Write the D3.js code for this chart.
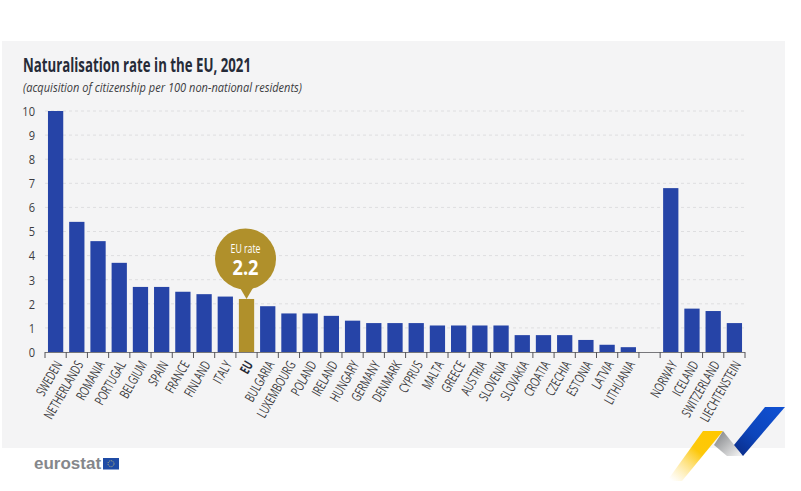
<!DOCTYPE html>
<html>
<head>
<meta charset="utf-8">
<script src="https://cdn.jsdelivr.net/npm/d3@7"></script>
<style>
html, body { margin: 0; padding: 0; background: #fff; }
svg { display: block; }
text { font-family: "Open Sans", sans-serif; }
</style>
</head>
<body>
<div class="canva"></div>
<script>
// blank entry is the gap between the EU members and the EFTA countries
const countries = ['SWEDEN','NETHERLANDS','ROMANIA','PORTUGAL','BELGIUM','SPAIN','FRANCE','FINLAND','ITALY','EU',
  'BULGARIA','LUXEMBOURG','POLAND','IRELAND','HUNGARY','GERMANY','DENMARK','CYPRUS','MALTA','GREECE','AUSTRIA',
  'SLOVENIA','SLOVAKIA','CROATIA','CZECHIA','ESTONIA','LATVIA','LITHUANIA','','NORWAY','ICELAND','SWITZERLAND','LIECHTENSTEIN'];
const rates = [10,5.4,4.6,3.7,2.7,2.7,2.5,2.4,2.3,2.2,
  1.9,1.6,1.6,1.5,1.3,1.2,1.2,1.2,1.1,1.1,1.1,
  1.1,0.7,0.7,0.7,0.5,0.3,0.2,0,6.8,1.8,1.7,1.2];
const yTicks = [0,1,2,3,4,5,6,7,8,9,10];

const svg = d3.select('.canva').append('svg')
  .attr('width', 801)
  .attr('height', 491);

const defs = svg.append('defs');
function grad(id, x1, y1, x2, y2, stops) {
  const g = defs.append('linearGradient').attr('id', id)
    .attr('gradientUnits', 'userSpaceOnUse')
    .attr('x1', x1).attr('y1', y1).attr('x2', x2).attr('y2', y2);
  stops.forEach(s => g.append('stop').attr('offset', s[0]).attr('stop-color', s[1]).attr('stop-opacity', s[2]));
}
grad('yellow', 715, 431, 672, 481, [[0,'#ffc800',1],[0.4,'#fdc80a',1],[1,'#fdd860',0]]);
grad('grey', 718, 436, 738, 456, [[0,'#8f9194',1],[1,'#eeeeee',1]]);
grad('blue', 775, 407, 738, 452, [[0,'#0f4fd0',1],[0.6,'#0d45bb',1],[1,'#0a2f8e',1]]);

//background panel
svg.append('rect')
  .attr('x', 2).attr('y', 41)
  .attr('width', 783).attr('height', 407)
  .attr('fill', '#f4f4f5');

const margin = {top: 111, left: 45};
const graphWidth = 700;
const graphHeight = 241;

const mainCanvas = svg.append('g')
  .attr('transform', `translate(${margin.left},${margin.top})`);

const x = d3.scaleBand()
  .domain(d3.range(countries.length))
  .range([0, graphWidth])
  .paddingInner(0.28)
  .paddingOuter(0.14);

const y = d3.scaleLinear()
  .domain([0, 10])
  .range([graphHeight, 0]);

//gridlines
mainCanvas.selectAll('.grid')
  .data(yTicks.slice(1))
  .enter().append('line')
  .attr('x1', 0)
  .attr('x2', graphWidth)
  .attr('y1', d => y(d))
  .attr('y2', d => y(d))
  .attr('stroke', '#dedee0')
  .attr('stroke-width', 1)
  .attr('stroke-dasharray', '3,3');

//y labels, squeezed because the original face is a condensed one
const yAxis = d3.axisLeft(y).tickValues(yTicks).tickSize(0).tickPadding(10);
const yG = mainCanvas.append('g').call(yAxis);
yG.select('.domain').remove();
yG.selectAll('text')
  .attr('x', 0)
  .attr('transform', 'translate(-10,0) scale(0.82,1)')
  .attr('font-size', 13.5)
  .attr('fill', '#3c3c41')
  .style('font-family', '"Open Sans", sans-serif');

//bars
mainCanvas.selectAll('.bar')
  .data(rates)
  .enter().append('rect')
  .attr('x', (d, i) => x(i))
  .attr('y', d => y(d))
  .attr('width', x.bandwidth())
  .attr('height', d => graphHeight - y(d))
  .attr('fill', (d, i) => countries[i] === 'EU' ? '#b0902b' : '#2644a7');

//x axis, ticks sit between the bars
const step = graphWidth / countries.length;
mainCanvas.append('line')
  .attr('x1', 0).attr('x2', graphWidth)
  .attr('y1', graphHeight + 0.5).attr('y2', graphHeight + 0.5)
  .attr('stroke', '#77777b');
mainCanvas.selectAll('.tick-mark')
  .data(d3.range(countries.length + 1))
  .enter().append('line')
  .attr('x1', d => d * step)
  .attr('x2', d => d * step)
  .attr('y1', graphHeight)
  .attr('y2', graphHeight + 6)
  .attr('stroke', '#55555a');

mainCanvas.selectAll('.xlabel')
  .data(countries)
  .enter().append('text')
  .attr('text-anchor', 'end')
  .attr('dy', '0.35em')
  .attr('font-size', 13.5)
  .attr('font-weight', d => d === 'EU' ? 700 : 400)
  .attr('fill', d => d === 'EU' ? '#262b38' : '#3c3c41')
  .attr('transform', (d, i) => `translate(${x(i) + x.bandwidth() / 2 + 3},${graphHeight + 10}) rotate(-60) scale(0.69,1)`)
  .text(d => d);

//EU rate bubble
const euIndex = countries.indexOf('EU');
const bx = x(euIndex) + x.bandwidth() / 2;
const by = y(rates[euIndex]);
const bubble = mainCanvas.append('g').attr('transform', `translate(${bx},${by})`);
bubble.append('circle')
  .attr('cx', -1).attr('cy', -40)
  .attr('r', 30.5)
  .attr('fill', '#b0902b');
bubble.append('path')
  .attr('d', 'M-7,-12 L0,0 L7,-12 Z')
  .attr('fill', '#b0902b');
bubble.append('text')
  .attr('x', -1).attr('y', -46)
  .attr('text-anchor', 'middle')
  .attr('font-size', 13)
  .attr('textLength', 30)
  .attr('lengthAdjust', 'spacingAndGlyphs')
  .attr('fill', '#fff')
  .text('EU rate');
bubble.append('text')
  .attr('x', -1).attr('y', -23.5)
  .attr('text-anchor', 'middle')
  .attr('font-size', 22)
  .attr('font-weight', 700)
  .attr('textLength', 26)
  .attr('lengthAdjust', 'spacingAndGlyphs')
  .attr('fill', '#fff')
  .text(rates[euIndex].toFixed(1));

//title
svg.append('text')
  .attr('x', 23).attr('y', 71.5)
  .attr('font-size', 20)
  .attr('font-weight', 700)
  .attr('textLength', 228)
  .attr('lengthAdjust', 'spacingAndGlyphs')
  .attr('fill', '#262b38')
  .text('Naturalisation rate in the EU, 2021');
svg.append('text')
  .attr('x', 23).attr('y', 92)
  .attr('font-size', 12)
  .attr('font-style', 'italic')
  .attr('textLength', 279)
  .attr('lengthAdjust', 'spacingAndGlyphs')
  .attr('fill', '#3c3c41')
  .text('(acquisition of citizenship per 100 non-national residents)');

//eurostat logo
svg.append('text')
  .attr('x', 34).attr('y', 469)
  .attr('font-size', 17)
  .attr('font-weight', 700)
  .attr('fill', '#85878b')
  .style('font-family', '"Liberation Sans", sans-serif')
  .text('eurostat');
svg.append('rect')
  .attr('x', 103).attr('y', 458)
  .attr('width', 16).attr('height', 11.5)
  .attr('fill', '#1f4ba5');
svg.append('circle')
  .attr('cx', 111).attr('cy', 463.7).attr('r', 3)
  .attr('fill', 'none')
  .attr('stroke', '#e8d66a')
  .attr('stroke-width', 0.8)
  .attr('stroke-dasharray', '1,1');

//corner decoration
const ribbons = [
  ['url(#yellow)', [[703,431],[723,431],[682,481],[667,481]]],
  ['url(#grey)', [[723,431],[714,445],[727,456],[743,456]]],
  ['url(#blue)', [[765,407],[785,407],[743,456],[734,445]]]
];
svg.selectAll('.ribbon')
  .data(ribbons)
  .enter().append('path')
  .attr('fill', d => d[0])
  .attr('d', d => d3.line()(d[1]) + 'Z');
</script>
</body>
</html>
